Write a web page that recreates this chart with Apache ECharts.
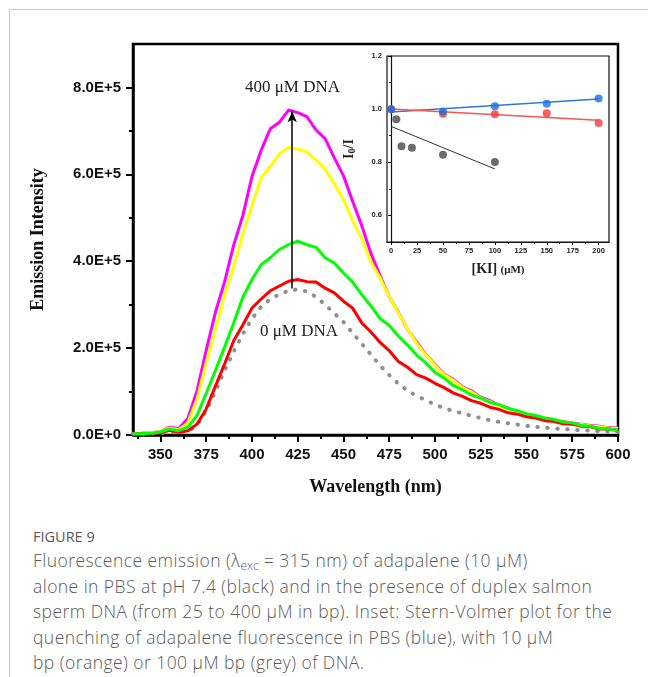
<!DOCTYPE html>
<html>
<head>
<meta charset="utf-8">
<script src="https://cdn.jsdelivr.net/npm/echarts@6/dist/echarts.min.js"></script>
<style>
  body { margin: 0; background: #fff; }
  #wrap { position: relative; width: 648px; height: 677px; overflow: hidden; }
  #frame { position: absolute; left: 9px; top: 9px; width: 700px; height: 700px;
           border-top: 1.5px solid #c8c8c8; border-left: 1.5px solid #c8c8c8; }
  #chart { position: absolute; left: 0; top: 0; width: 648px; height: 505px; }
  .cap { position: absolute; left: 33px; color: #595959; font-family: "Open Sans", sans-serif; white-space: nowrap; }
  #figno { top: 528px; font-size: 14.5px; line-height: 18px; }
  #captext { top: 548px; font-size: 17.5px; line-height: 25.6px; letter-spacing: 0.45px; font-weight: 300; }
  #captext sub { font-size: 12px; vertical-align: -3px; line-height: 0; letter-spacing: 0; }
</style>
</head>
<body>
<div id="wrap">
  <div id="frame"></div>
  <div id="chart"></div>
  <div class="cap" id="figno">FIGURE 9</div>
  <div class="cap" id="captext">Fluorescence emission (λ<sub>exc</sub> = 315 nm) of adapalene (10 μM)<br>alone in PBS at pH 7.4 (black) and in the presence of duplex salmon<br>sperm DNA (from 25 to 400 μM in bp). Inset: Stern-Volmer plot for the<br>quenching of adapalene fluorescence in PBS (blue), with 10 μM<br>bp (orange) or 100 μM bp (grey) of DNA.</div>
</div>
<script>
// emission spectra, intensity in units of 1E+5
const wavelength = [335, 340, 345, 350, 355, 360, 365, 370, 375, 380, 385, 390, 395, 400, 405, 410, 415, 420, 425, 430,
  435, 440, 445, 450, 455, 460, 465, 470, 475, 480, 485, 490, 495, 500, 505, 510, 515, 520, 525, 530,
  535, 540, 545, 550, 555, 560, 565, 570, 575, 580, 585, 590, 595, 600];

const dna400 = [0.03, 0.04, 0.05, 0.08, 0.18, 0.15, 0.38, 1.02, 1.95, 2.82, 3.52, 4.37, 5.05, 5.95, 6.55, 7.05, 7.20, 7.48, 7.42, 7.33,
  7.02, 6.82, 6.38, 5.97, 5.38, 4.82, 4.18, 3.67, 3.18, 2.82, 2.43, 2.14, 1.85, 1.63, 1.40, 1.28, 1.11, 1.01, 0.87, 0.79,
  0.68, 0.62, 0.53, 0.48, 0.41, 0.38, 0.33, 0.31, 0.27, 0.25, 0.22, 0.20, 0.17, 0.16];

const dnaYellow = [0.03, 0.03, 0.05, 0.08, 0.16, 0.12, 0.28, 0.83, 1.66, 2.43, 3.22, 3.88, 4.62, 5.28, 5.92, 6.18, 6.47, 6.62, 6.58, 6.52,
  6.33, 6.12, 5.78, 5.42, 4.93, 4.52, 3.98, 3.62, 3.18, 2.81, 2.44, 2.11, 1.84, 1.61, 1.39, 1.26, 1.09, 0.99, 0.85, 0.77,
  0.66, 0.61, 0.51, 0.47, 0.40, 0.37, 0.32, 0.30, 0.26, 0.24, 0.21, 0.19, 0.16, 0.15];

const dnaGreen = [0.03, 0.03, 0.04, 0.07, 0.14, 0.10, 0.18, 0.45, 0.96, 1.48, 2.02, 2.58, 3.17, 3.58, 3.92, 4.08, 4.27, 4.38, 4.46, 4.38,
  4.32, 4.08, 3.96, 3.73, 3.52, 3.23, 2.97, 2.68, 2.52, 2.28, 2.07, 1.84, 1.66, 1.44, 1.31, 1.14, 1.04, 0.92, 0.85, 0.75,
  0.70, 0.61, 0.56, 0.49, 0.45, 0.39, 0.36, 0.30, 0.28, 0.22, 0.20, 0.15, 0.14, 0.11];

const dnaRed = [0.03, 0.03, 0.03, 0.05, 0.11, 0.06, 0.10, 0.25, 0.60, 1.12, 1.63, 2.17, 2.53, 2.92, 3.13, 3.32, 3.43, 3.54, 3.58, 3.53,
  3.52, 3.38, 3.27, 3.08, 2.92, 2.58, 2.37, 2.13, 1.94, 1.69, 1.56, 1.39, 1.31, 1.19, 1.09, 0.97, 0.89, 0.79, 0.73, 0.64,
  0.59, 0.51, 0.48, 0.42, 0.39, 0.33, 0.31, 0.26, 0.25, 0.20, 0.19, 0.14, 0.14, 0.11];

const dna0 = [0.03, 0.03, 0.03, 0.04, 0.07, 0.05, 0.08, 0.22, 0.55, 1.00, 1.48, 1.92, 2.32, 2.68, 2.95, 3.13, 3.24, 3.32, 3.35, 3.30,
  3.18, 3.00, 2.80, 2.60, 2.35, 2.10, 1.85, 1.60, 1.38, 1.18, 1.02, 0.90, 0.80, 0.70, 0.62, 0.55, 0.50, 0.44, 0.39, 0.34,
  0.30, 0.27, 0.24, 0.21, 0.19, 0.17, 0.15, 0.14, 0.12, 0.11, 0.10, 0.09, 0.08, 0.07];

const xMajor = [350, 375, 400, 425, 450, 475, 500, 525, 550, 575, 600];
const xMinor = [337.5, 362.5, 387.5, 412.5, 437.5, 462.5, 487.5, 512.5, 537.5, 562.5, 587.5];
const yMajor = [0, 2, 4, 6, 8];
const yMinor = [1, 3, 5, 7];

// inset: Stern-Volmer
const kiBlue = [0, 50, 100, 150, 200];
const ratioBlue = [1.0, 0.991, 1.011, 1.02, 1.04];
const kiRed = [0, 50, 100, 150, 200];
const ratioRed = [1.0, 0.983, 0.981, 0.985, 0.948];
const kiGrey = [5, 10, 20, 50, 100];
const ratioGrey = [0.962, 0.860, 0.855, 0.828, 0.801];
const fitBlue = [[0, 0.989], [200, 1.038]];
const fitRed = [[0, 1.001], [200, 0.958]];
const fitGrey = [[0, 0.935], [100, 0.775]];

const insetXMajor = [0, 25, 50, 75, 100, 125, 150, 175, 200];
const insetXMinor = [12.5, 37.5, 62.5, 87.5, 112.5, 137.5, 162.5, 187.5];
const insetYMajor = [0.6, 0.8, 1.0, 1.2];
const insetYMinor = [0.7, 0.9, 1.1];

const pairs = (xs, ys) => xs.map((x, i) => [x, ys[i]]);

const sans = '"Liberation Sans", Arial, sans-serif';
const serif = '"Liberation Serif", "Times New Roman", serif';

const chart = echarts.init(document.getElementById('chart'));

function spectrum(name, data, color, extra) {
  return Object.assign({
    name: name,
    type: 'line',
    xAxisIndex: 0,
    yAxisIndex: 0,
    data: pairs(wavelength, data),
    showSymbol: false,
    smooth: false,
    lineStyle: { color: color, width: 3 },
    itemStyle: { color: color },
    silent: true
  }, extra || {});
}

chart.setOption({
  animation: false,
  grid: [
    { left: 133, top: 44, width: 485, height: 391, show: true, borderColor: '#000', borderWidth: 2.5, backgroundColor: 'transparent' },
    { left: 387, top: 56, width: 222, height: 186, show: true, borderColor: '#111', borderWidth: 1.2, backgroundColor: '#fff', z: 5 }
  ],
  xAxis: [
    {
      gridIndex: 0, type: 'value', min: 335, max: 600,
      axisLine: { lineStyle: { color: '#000', width: 2.5 } },
      axisTick: { customValues: xMajor, length: 7, lineStyle: { color: '#000', width: 2 } },
      axisLabel: { customValues: xMajor, fontFamily: sans, fontWeight: 'bold', fontSize: 15, color: '#111', margin: 12 },
      splitLine: { show: false },
      name: 'Wavelength (nm)', nameLocation: 'middle', nameGap: 43,
      nameTextStyle: { fontFamily: serif, fontWeight: 'bold', fontSize: 18, color: '#111' }
    },
    {
      gridIndex: 0, type: 'value', min: 335, max: 600, position: 'bottom',
      axisLine: { show: false },
      axisTick: { customValues: xMinor, length: 4, lineStyle: { color: '#000', width: 2 } },
      axisLabel: { show: false },
      splitLine: { show: false }
    },
    {
      gridIndex: 1, type: 'value', min: -4, max: 210, z: 6,
      axisLine: { lineStyle: { color: '#111', width: 1.2 } },
      axisTick: { customValues: insetXMajor, length: 3, lineStyle: { color: '#111', width: 1 } },
      axisLabel: { customValues: insetXMajor, fontFamily: sans, fontWeight: 'bold', fontSize: 7.5, color: '#222', margin: 5 },
      splitLine: { show: false },
      name: '{b|[KI]} {s|(μM)}', nameLocation: 'middle', nameGap: 20,
      nameTextStyle: { rich: {
        b: { fontFamily: serif, fontWeight: 'bold', fontSize: 14, color: '#222' },
        s: { fontFamily: serif, fontWeight: 'bold', fontSize: 11, color: '#222', padding: [2, 0, 0, 0] }
      } }
    },
    {
      gridIndex: 1, type: 'value', min: -4, max: 210, position: 'bottom', z: 6,
      axisLine: { show: false },
      axisTick: { customValues: insetXMinor, length: 2, lineStyle: { color: '#111', width: 1 } },
      axisLabel: { show: false },
      splitLine: { show: false }
    }
  ],
  yAxis: [
    {
      gridIndex: 0, type: 'value', min: 0, max: 9,
      axisLine: { show: true, lineStyle: { color: '#000', width: 2.5 } },
      axisTick: { show: true, customValues: yMajor, length: 7, lineStyle: { color: '#000', width: 2 } },
      axisLabel: {
        customValues: yMajor, fontFamily: sans, fontWeight: 'bold', fontSize: 15, color: '#111', margin: 12,
        formatter: v => v === 0 ? '0.0E+0' : v.toFixed(1) + 'E+5'
      },
      splitLine: { show: false },
      name: 'Emission Intensity', nameLocation: 'middle', nameGap: 86, nameRotate: 90,
      nameTextStyle: { fontFamily: serif, fontWeight: 'bold', fontSize: 18, color: '#111' }
    },
    {
      gridIndex: 0, type: 'value', min: 0, max: 9, position: 'left',
      axisLine: { show: false },
      axisTick: { show: true, customValues: yMinor, length: 4, lineStyle: { color: '#000', width: 2 } },
      axisLabel: { show: false },
      splitLine: { show: false }
    },
    {
      gridIndex: 1, type: 'value', min: 0.5, max: 1.2, z: 6,
      axisLine: { show: true, lineStyle: { color: '#111', width: 1.2 } },
      axisTick: { show: true, customValues: insetYMajor, length: 3, lineStyle: { color: '#111', width: 1 } },
      axisLabel: {
        customValues: insetYMajor, fontFamily: sans, fontWeight: 'bold', fontSize: 7.5, color: '#222', margin: 5,
        formatter: v => v.toFixed(1)
      },
      splitLine: { show: false },
      name: '{b|I}{s|0}{b|/I}', nameLocation: 'middle', nameGap: 30, nameRotate: 90,
      nameTextStyle: { rich: {
        b: { fontFamily: serif, fontWeight: 'bold', fontSize: 14, color: '#222' },
        s: { fontFamily: serif, fontWeight: 'bold', fontSize: 10, color: '#222', padding: [6, 0, 0, 0] }
      } }
    },
    {
      gridIndex: 1, type: 'value', min: 0.5, max: 1.2, position: 'left', z: 6,
      axisLine: { show: false },
      axisTick: { show: true, customValues: insetYMinor, length: 2, lineStyle: { color: '#111', width: 1 } },
      axisLabel: { show: false },
      splitLine: { show: false }
    }
  ],
  series: [
    spectrum('0 μM DNA', dna0, '#8f8f8f', {
      lineStyle: { color: '#8f8f8f', width: 4, type: [0.5, 9.5], cap: 'round' },
      markLine: {
        silent: true, symbol: ['none', 'arrow'], symbolSize: [7, 11],
        lineStyle: { color: '#000', width: 1.5, type: 'solid' },
        label: { show: false },
        data: [[{ coord: [422, 3.37] }, { coord: [422, 7.45] }]]
      }
    }),
    spectrum('400 μM DNA', dna400, '#ff00ff'),
    spectrum('DNA (yellow)', dnaYellow, '#ffff00'),
    spectrum('DNA (red)', dnaRed, '#ff0000'),
    spectrum('DNA (green)', dnaGreen, '#00ff00'),
    {
      name: 'PBS fit', type: 'line', xAxisIndex: 2, yAxisIndex: 2, data: fitBlue, showSymbol: false,
      lineStyle: { color: '#2a78e4', width: 1.5 }, z: 7, silent: true
    },
    {
      name: '10 μM bp fit', type: 'line', xAxisIndex: 2, yAxisIndex: 2, data: fitRed, showSymbol: false,
      lineStyle: { color: '#f25555', width: 1.5 }, z: 7, silent: true
    },
    {
      name: '100 μM bp fit', type: 'line', xAxisIndex: 2, yAxisIndex: 2, data: fitGrey, showSymbol: false,
      lineStyle: { color: '#333', width: 1 }, z: 7, silent: true
    },
    {
      name: '10 μM bp', type: 'scatter', xAxisIndex: 2, yAxisIndex: 2, data: pairs(kiRed, ratioRed),
      symbolSize: 8, itemStyle: { color: '#f03a3a' }, z: 8, silent: true
    },
    {
      name: 'PBS', type: 'scatter', xAxisIndex: 2, yAxisIndex: 2, data: pairs(kiBlue, ratioBlue),
      symbolSize: 8, itemStyle: { color: '#1a6fe6' }, z: 8, silent: true
    },
    {
      name: '100 μM bp', type: 'scatter', xAxisIndex: 2, yAxisIndex: 2, data: pairs(kiGrey, ratioGrey),
      symbolSize: 8, itemStyle: { color: '#474747' }, z: 8, silent: true
    }
  ],
  graphic: [
    { type: 'text', left: 245, top: 79, style: { text: '400 μM DNA', font: '17px ' + serif, fill: '#222' }, z: 10 },
    { type: 'text', left: 260, top: 323, style: { text: '0 μM DNA', font: '17px ' + serif, fill: '#222' }, z: 10 }
  ]
});
</script>
</body>
</html>
